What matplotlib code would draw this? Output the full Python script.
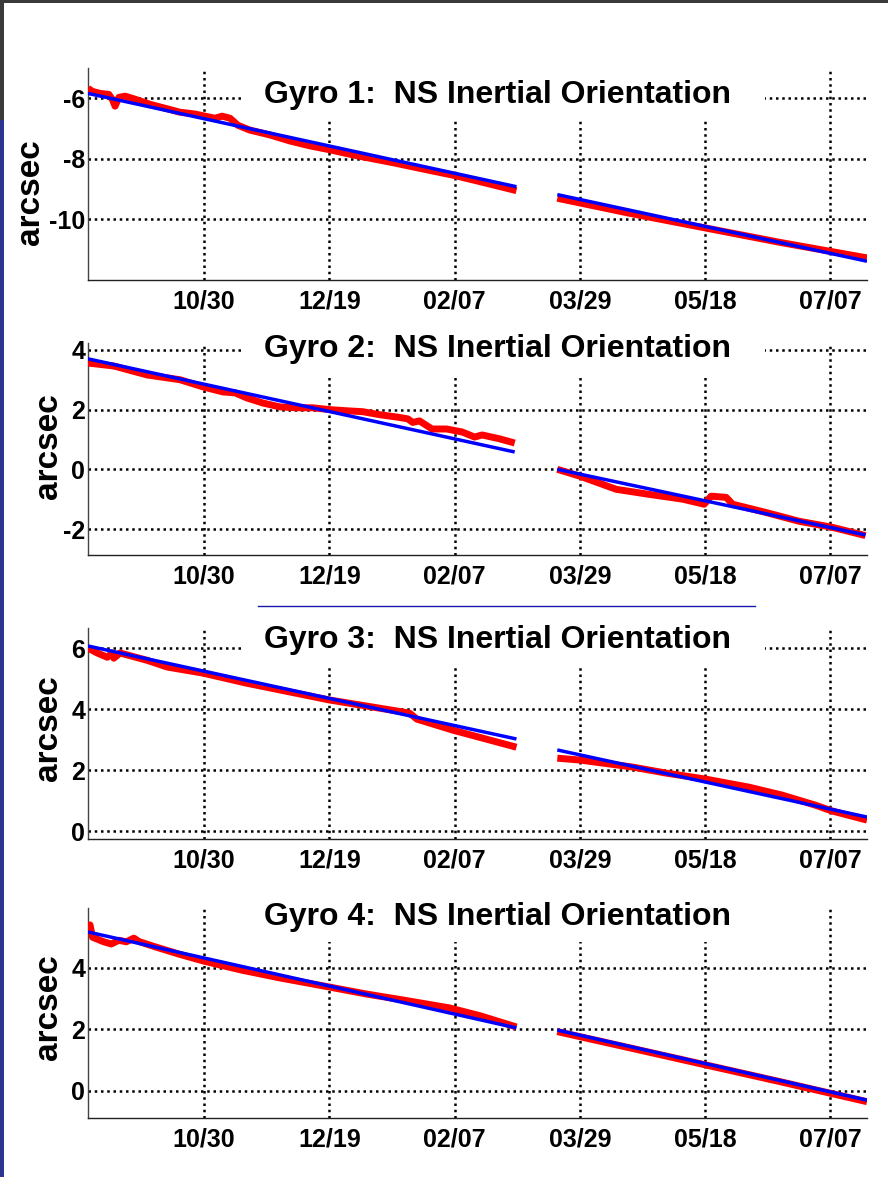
import matplotlib
matplotlib.use("Agg")
import matplotlib.pyplot as plt
from matplotlib.patches import Rectangle
import numpy as np

plt.rcParams['font.family'] = ['Liberation Sans', 'DejaVu Sans']
plt.rcParams['font.weight'] = 'bold'
plt.rcParams['axes.unicode_minus'] = False

# ---- data (days relative to 10/30) ----
tick_days = [0, 50, 100, 150, 200, 250]
tick_labels = ['10/30', '12/19', '02/07', '03/29', '05/18', '07/07']
xlim = (-46.3, 264.6)

titles = ['Gyro 1:  NS Inertial Orientation', 'Gyro 2:  NS Inertial Orientation',
          'Gyro 3:  NS Inertial Orientation', 'Gyro 4:  NS Inertial Orientation']

# Gyro 1
g1_red1_d = [-46.3, -44.6, -41.4, -38.0, -36.5, -35.5, -34.0, -31.5, -27.5, -21.5, -15.5, -9.6,
             -3.6, 0.4, 4.4, 7.2, 10.4, 13.5, 18.3, 26.3, 34.3, 42.2, 50.2, 60, 75, 90, 100, 110, 124.7]
g1_red1_v = [-5.67, -5.77, -5.84, -5.87, -6.05, -6.26, -5.97, -5.93, -6.03, -6.20, -6.33, -6.46,
             -6.52, -6.59, -6.66, -6.59, -6.66, -6.89, -7.05, -7.21, -7.41, -7.57, -7.70, -7.88,
             -8.12, -8.38, -8.55, -8.75, -9.05]
g1_red2_d = [141, 170, 200, 230, 264.6]
g1_red2_v = [-9.30, -9.80, -10.28, -10.76, -11.27]
g1_fit1_d = [-46.3, 124.7]
g1_fit1_v = [-5.84, -8.92]
g1_fit2_d = [141, 264.6]
g1_fit2_v = [-9.18, -11.38]

# Gyro 2
g2_red1_d = [-46.3, -36, -22.7, -9.6, -0.4, 7.6, 12.4, 17.1, 23.5, 30.3, 37, 43.4, 50, 57, 63.3,
             70, 77, 81.3, 83.3, 86, 91, 96.8, 103, 108, 111, 118, 124]
g2_red1_v = [3.56, 3.46, 3.16, 3.00, 2.76, 2.59, 2.56, 2.39, 2.22, 2.09, 2.06, 2.06, 2.00, 1.96,
             1.93, 1.83, 1.75, 1.69, 1.57, 1.62, 1.35, 1.35, 1.25, 1.08, 1.15, 1.02, 0.88]
g2_red2_d = [141, 150, 164.5, 177.7, 191, 199.6, 202.4, 208.4, 211, 224, 237.5, 250.6, 264]
g2_red2_v = [0.00, -0.23, -0.67, -0.84, -1.00, -1.17, -0.90, -0.94, -1.17, -1.44, -1.74, -1.94, -2.22]
g2_fit1_d = [-46.3, 124]
g2_fit1_v = [3.70, 0.58]
g2_fit2_d = [141, 264]
g2_fit2_v = [0.00, -2.20]

# Gyro 3
g3_red1_d = [-46.3, -42.6, -38.6, -36.7, -36, -33.5, -22.7, -14.7, -0.4, 17, 50, 82, 85, 99.3, 124.7]
g3_red1_v = [6.00, 5.84, 5.70, 5.84, 5.67, 5.84, 5.60, 5.38, 5.18, 4.85, 4.30, 3.87, 3.67, 3.31, 2.75]
g3_red2_d = [141, 150, 171, 184.5, 200.5, 217.5, 230.7, 244, 250.6, 264.6]
g3_red2_v = [2.39, 2.33, 2.10, 1.90, 1.70, 1.44, 1.18, 0.85, 0.66, 0.36]
g3_fit1_d = [-46.3, 124.7]
g3_fit1_v = [6.07, 3.02]
g3_fit2_d = [141, 264.6]
g3_fit2_v = [2.66, 0.46]

# Gyro 4
g4_red1_d = [-46.3, -45.5, -44.5, -40, -37, -34, -31, -28, -26, -20, -10, 0, 15, 30, 50, 65, 80, 98, 110, 124.7]
g4_red1_v = [5.33, 5.40, 5.00, 4.85, 4.78, 4.90, 4.85, 4.97, 4.86, 4.70, 4.45, 4.22, 3.93, 3.68,
             3.38, 3.15, 2.95, 2.70, 2.45, 2.08]
g4_red2_d = [141, 170, 200, 230, 264.6]
g4_red2_v = [1.93, 1.40, 0.85, 0.30, -0.35]
g4_fit1_d = [-46.3, 124.7]
g4_fit1_v = [5.17, 2.05]
g4_fit2_d = [141, 264.6]
g4_fit2_v = [1.98, -0.30]

yticks = [[-10, -8, -6], [-2, 0, 2, 4], [0, 2, 4, 6], [0, 2, 4]]
ylims = [(-12, -5), (-2.87, 4.23), (-0.26, 6.66), (-0.88, 5.95)]

panels = [
    (g1_red1_d, g1_red1_v, g1_red2_d, g1_red2_v, g1_fit1_d, g1_fit1_v, g1_fit2_d, g1_fit2_v),
    (g2_red1_d, g2_red1_v, g2_red2_d, g2_red2_v, g2_fit1_d, g2_fit1_v, g2_fit2_d, g2_fit2_v),
    (g3_red1_d, g3_red1_v, g3_red2_d, g3_red2_v, g3_fit1_d, g3_fit1_v, g3_fit2_d, g3_fit2_v),
    (g4_red1_d, g4_red1_v, g4_red2_d, g4_red2_v, g4_fit1_d, g4_fit1_v, g4_fit2_d, g4_fit2_v),
]

# ---- layout (pixels) ----
W, H = 888, 1177
fig = plt.figure(figsize=(W / 100, H / 100), dpi=100)
fig.patch.set_facecolor('white')

ax_left, ax_right = 88, 867
tops = [68, 343, 628, 908]
bottoms = [280, 555, 839, 1118]
title_base = [103, 357, 648, 925]
box_bottom = [120, 377, 667, 942]
ylabel_c = [192, 446, 728, 1007]
ylabel_x = [30, 48, 48, 48]

def fx(px):
    return px / W

def fy(py):
    return 1 - py / H

for i in range(4):
    ax = fig.add_axes([fx(ax_left), fy(bottoms[i]), fx(ax_right - ax_left),
                       (bottoms[i] - tops[i]) / H])
    r1d, r1v, r2d, r2v, f1d, f1v, f2d, f2v = panels[i]
    ax.plot(r1d, r1v, color='#ff0000', lw=5.0, solid_capstyle='butt', solid_joinstyle='round', zorder=3)
    ax.plot(r2d, r2v, color='#ff0000', lw=5.0, solid_capstyle='butt', solid_joinstyle='round', zorder=3)
    ax.plot(f1d, f1v, color='#0000ff', lw=2.5, solid_capstyle='butt', zorder=4)
    ax.plot(f2d, f2v, color='#0000ff', lw=2.5, solid_capstyle='butt', zorder=4)
    ax.set_xlim(*xlim)
    ax.set_ylim(*ylims[i])
    ax.set_xticks(tick_days)
    ax.set_xticklabels(tick_labels)
    ax.set_yticks(yticks[i])
    ax.set_yticklabels([str(v) for v in yticks[i]])
    ax.set_axisbelow(True)
    ax.grid(True, color='black', linestyle=(0, (1, 1.5)), linewidth=1.8)
    ax.tick_params(axis='both', length=0, labelsize=18)
    ax.tick_params(axis='x', pad=7)
    ax.tick_params(axis='y', pad=2)
    for lab in ax.get_xticklabels() + ax.get_yticklabels():
        lab.set_fontweight('bold')
    ax.spines['top'].set_visible(False)
    ax.spines['right'].set_visible(False)
    ax.spines['left'].set_color('#444444')
    ax.spines['bottom'].set_color('#222222')
    ax.spines['left'].set_linewidth(1.0)
    ax.spines['bottom'].set_linewidth(1.0)
    ax.patch.set_alpha(0)
    # white title box covering grid
    bx0, bx1 = 244, 765
    rect = Rectangle((fx(bx0), fy(box_bottom[i])), fx(bx1 - bx0), (box_bottom[i] - tops[i] + 2) / H,
                     transform=fig.transFigure, facecolor='white', edgecolor='none', zorder=1)
    ax.add_patch(rect)
    fig.text(fx(497), fy(title_base[i]), titles[i], ha='center', va='baseline',
             fontsize=23, fontweight='bold', zorder=10)
    fig.text(fx(ylabel_x[i]), fy(ylabel_c[i]), 'arcsec', rotation=90, ha='center', va='center',
             fontsize=24, fontweight='bold')

# separator line between panels 2 and 3
fig.add_artist(plt.Line2D([fx(258), fx(755)], [fy(606), fy(606)], transform=fig.transFigure,
                          color='#1a1ab0', lw=1.0))

# frame borders
fig.add_artist(Rectangle((0, fy(3)), 1, 3 / H, transform=fig.transFigure,
                         facecolor='#3a3a3a', edgecolor='none'))
fig.add_artist(Rectangle((0, 0), 3.5 / W, 1, transform=fig.transFigure,
                         facecolor='#2e3590', edgecolor='none'))
fig.add_artist(Rectangle((0, fy(120)), 3.5 / W, 120 / H, transform=fig.transFigure,
                         facecolor='#3a3a3a', edgecolor='none'))

fig.savefig('out.png', dpi=100, facecolor='white')
